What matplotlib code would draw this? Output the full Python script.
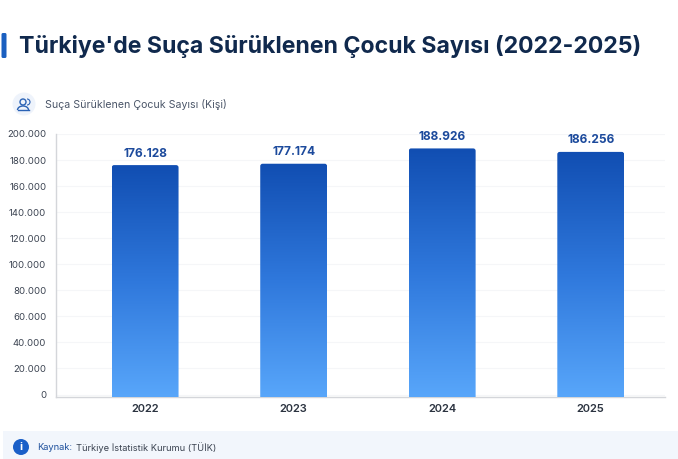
import numpy as np
import matplotlib
matplotlib.use('Agg')
import matplotlib.pyplot as plt
from matplotlib.colors import LinearSegmentedColormap
from matplotlib.patches import Circle, Arc, FancyBboxPatch, Rectangle

years = ['2022', '2023', '2024', '2025']
values = [176128, 177174, 188926, 186256]
value_labels = ['176.128', '177.174', '188.926', '186.256']
yticks = [0, 20000, 40000, 60000, 80000, 100000, 120000, 140000, 160000, 180000, 200000]
ytick_labels = ['0', '20.000', '40.000', '60.000', '80.000', '100.000',
                '120.000', '140.000', '160.000', '180.000', '200.000']

title = "Türkiye'de Suça Sürüklenen Çocuk Sayısı (2022-2025)"
subtitle = 'Suça Sürüklenen Çocuk Sayısı (Kişi)'

plt.rcParams['font.family'] = ['Inter', 'DejaVu Sans']

W, H = 678, 459
fig = plt.figure(figsize=(W / 100, H / 100), dpi=100, facecolor='white')

# overlay in pixel coords for title, icons, source strip
bg = fig.add_axes([0, 0, 1, 1])
bg.set_xlim(0, W)
bg.set_ylim(H, 0)
bg.axis('off')

bg.add_patch(FancyBboxPatch((1.5, 33), 5, 25, boxstyle='round,pad=0,rounding_size=1.5',
                            fc='#1a5fc0', ec='none'))
bg.text(19, 46, title, fontsize=16.6, fontweight='bold', color='#10294d', va='center')

# people icon
bg.add_patch(Circle((24, 104), 11.5, fc='#eef3fb', ec='none'))
bg.add_patch(Circle((23, 102), 3, fc='none', ec='#2a62b5', lw=1))
bg.add_patch(Arc((23, 110), 11, 8, theta1=180, theta2=360, ec='#2a62b5', lw=1))
bg.plot([17.5, 28.5], [110, 110], color='#2a62b5', lw=1)
bg.add_patch(Arc((27, 102), 6, 6, theta1=270, theta2=90, ec='#2a62b5', lw=0.8))
bg.text(45, 104.5, subtitle, fontsize=7.6, color='#4a5568', va='center')

# source strip
bg.add_patch(Rectangle((3, 431), W - 3, 28, fc='#f2f6fc', ec='none'))
bg.add_patch(Circle((21, 447), 8, fc='#1a5fc8', ec='none'))
bg.text(21, 447, 'i', fontsize=8, fontweight='bold', color='white', ha='center', va='center')
bg.text(37, 447.5, 'Kaynak:', fontsize=6.7, color='#1d4f9c', va='center')
bg.text(76, 447.5, 'Türkiye İstatistik Kurumu (TÜİK)', fontsize=6.7, color='#3a4250', va='center')

# zero sits a little above the axis line, as in the original
ymin = -1900
ax = fig.add_axes([56 / W, (H - 397) / H, (665 - 56) / W, (397 - 134) / H])
ax.patch.set_alpha(0)
ax.set_xlim(-0.6, 3.5)
ax.set_ylim(ymin, 200000)

cmap = LinearSegmentedColormap.from_list('bar', ['#58a6fa', '#2f78dc', '#114eb2'])
grad = np.linspace(0, 1, 256).reshape(-1, 1)
bar_w = 0.45
# keeps the corner radius round despite the different axis scales
aspect = ((200000 - ymin) / 263) / (4.1 / 609)

for i, v in enumerate(values):
    left = i - bar_w / 2
    # box runs past the axis bottom so only the top corners show round
    box = FancyBboxPatch((left, ymin * 4), bar_w, v - ymin * 4,
                         boxstyle='round,pad=0,rounding_size=0.016',
                         mutation_aspect=aspect, fc='none', ec='none')
    ax.add_patch(box)
    im = ax.imshow(grad, origin='lower', aspect='auto', cmap=cmap, zorder=3,
                   extent=(left, left + bar_w, ymin, v))
    im.set_clip_path(box)
    ax.text(i, v + 4200, value_labels[i], ha='center', va='bottom', fontsize=8.6,
            fontweight='bold', color='#1c4a9c')

ax.set_xlim(-0.6, 3.5)
ax.set_ylim(ymin, 200000)
ax.set_xticks(range(len(years)))
ax.set_xticklabels(years, fontsize=8, fontweight='semibold', color='#2b3340')
ax.set_yticks(yticks)
ax.set_yticklabels(ytick_labels, fontsize=6.9, color='#3a4250')
ax.tick_params(axis='both', length=0)
ax.tick_params(axis='x', pad=5)
ax.tick_params(axis='y', pad=7)
ax.grid(axis='y', color='#f5f6f8', lw=0.8)
ax.set_axisbelow(True)
for s in ['top', 'right']:
    ax.spines[s].set_visible(False)
for s in ['left', 'bottom']:
    ax.spines[s].set_color('#d4d6da')
    ax.spines[s].set_linewidth(1)

fig.savefig('out.png', dpi=100)
plt.close(fig)
